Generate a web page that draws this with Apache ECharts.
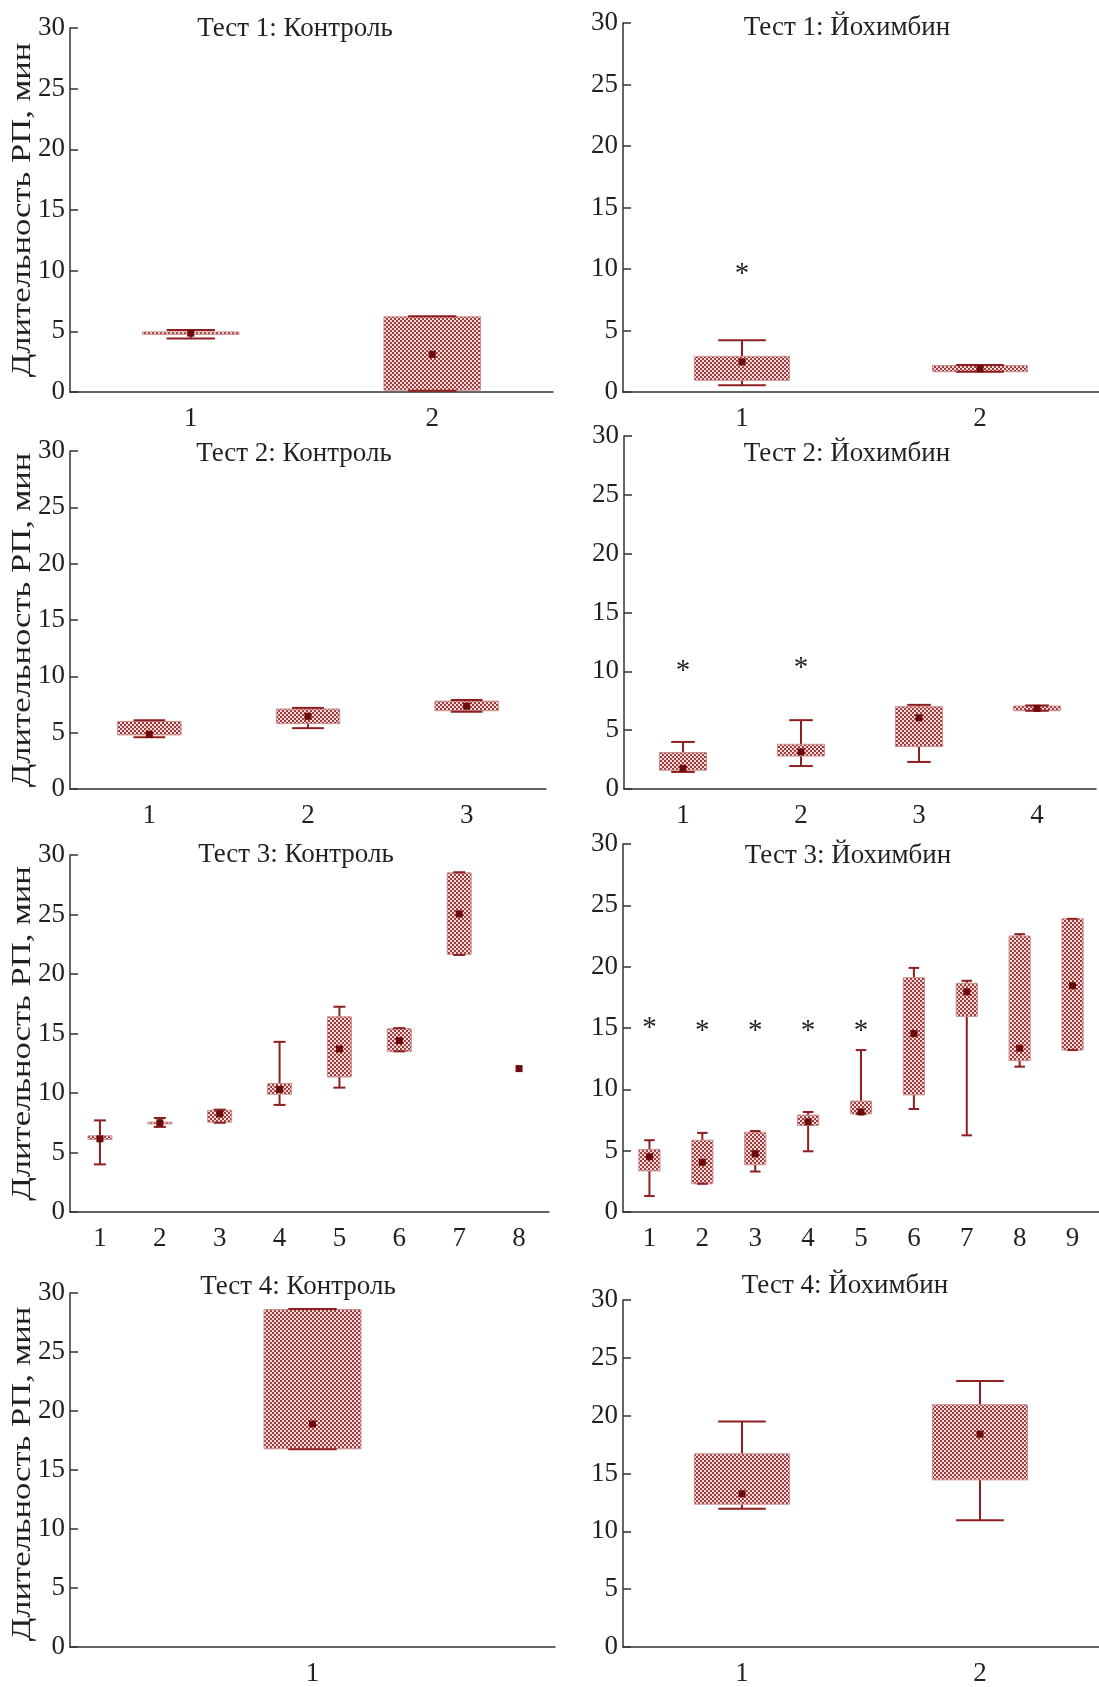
<!DOCTYPE html>
<html>
<head>
<meta charset="utf-8">
<script src="https://cdn.jsdelivr.net/npm/echarts@6/dist/echarts.min.js"></script>
<style>html,body{margin:0;padding:0;background:#fff}#c{width:1099px;height:1687px}</style>
</head>
<body>
<div id="c"></div>
<script>
// ---- data: each row = [min, q1, q3, max, mean] ----
const yTicks = [0, 5, 10, 15, 20, 25, 30];
const yName = 'Длительность РП, мин';

const t1ControlCats = ['1', '2'];
const t1Control = [[4.4, 4.75, 4.95, 5.1, 4.85], [0.1, 0.15, 6.2, 6.25, 3.1]];
const t1YohCats = ['1', '2'];
const t1Yoh = [[0.55, 0.95, 2.9, 4.2, 2.45], [1.65, 1.65, 2.15, 2.2, 1.9]];
const t1YohStars = [[0, 10.0]];

const t2ControlCats = ['1', '2', '3'];
const t2Control = [[4.6, 4.8, 6.0, 6.1, 4.85], [5.4, 5.8, 7.1, 7.2, 6.45], [6.85, 6.95, 7.8, 7.9, 7.35]];
const t2YohCats = ['1', '2', '3', '4'];
const t2Yoh = [[1.45, 1.6, 3.1, 4.0, 1.75], [1.95, 2.8, 3.8, 5.85, 3.15], [2.3, 3.6, 7.0, 7.15, 6.05], [6.65, 6.65, 7.05, 7.1, 6.85]];
const t2YohStars = [[0, 10.45], [1, 10.65]];

const t3ControlCats = ['1', '2', '3', '4', '5', '6', '7', '8'];
const t3Control = [[4.0, 6.1, 6.4, 7.7, 6.15], [7.15, 7.4, 7.55, 7.9, 7.5], [7.5, 7.55, 8.55, 8.6, 8.25],
  [9.0, 9.9, 10.8, 14.3, 10.3], [10.45, 11.35, 16.4, 17.25, 13.7], [13.5, 13.5, 15.4, 15.45, 14.4],
  [21.6, 21.65, 28.5, 28.55, 25.05], [12.05, 12.05, 12.05, 12.05, 12.05]];
const t3YohCats = ['1', '2', '3', '4', '5', '6', '7', '8', '9'];
const t3Yoh = [[1.3, 3.35, 5.1, 5.85, 4.5], [2.3, 2.3, 5.85, 6.45, 4.05], [3.3, 3.85, 6.5, 6.6, 4.75],
  [4.95, 7.05, 7.9, 8.15, 7.35], [8.0, 8.0, 9.05, 13.2, 8.15], [8.4, 9.55, 19.1, 19.9, 14.55],
  [6.25, 15.95, 18.65, 18.85, 17.95], [11.85, 12.35, 22.5, 22.65, 13.35], [13.2, 13.2, 23.9, 23.9, 18.45]];
const t3YohStars = [[0, 15.35], [1, 15.15], [2, 15.15], [3, 15.15], [4, 15.15]];

const t4ControlCats = ['1'];
const t4Control = [[16.75, 16.8, 28.6, 28.65, 18.9]];
const t4YohCats = ['1', '2'];
const t4Yoh = [[11.95, 12.35, 16.7, 19.5, 13.25], [10.95, 14.45, 20.95, 23.0, 18.4]];

const titles = ['Тест 1: Контроль', 'Тест 1: Йохимбин', 'Тест 2: Контроль', 'Тест 2: Йохимбин',
  'Тест 3: Контроль', 'Тест 3: Йохимбин', 'Тест 4: Контроль', 'Тест 4: Йохимбин'];

// ---- layout / style ----
const FONT = '"Liberation Serif", "Times New Roman", serif';
const TXT = '#231f20';
const RED = '#8e1f20';
const panels = [
  { cats: t1ControlCats, data: t1Control, stars: [], grid: [70, 28, 483, 364], title: [290, 10], ratio: 0.4, yname: true },
  { cats: t1YohCats, data: t1Yoh, stars: t1YohStars, grid: [623, 23, 477, 369], title: [842, 9], ratio: 0.4 },
  { cats: t2ControlCats, data: t2Control, stars: [], grid: [70, 451, 476, 338], title: [289, 435], ratio: 0.4, yname: true },
  { cats: t2YohCats, data: t2Yoh, stars: t2YohStars, grid: [624, 436, 472, 353], title: [842, 435], ratio: 0.4 },
  { cats: t3ControlCats, data: t3Control, stars: [], grid: [70, 855, 479, 357], title: [291, 836], ratio: 0.4, yname: true },
  { cats: t3YohCats, data: t3Yoh, stars: t3YohStars, grid: [623, 844, 481, 368], title: [843, 837], ratio: 0.4 },
  { cats: t4ControlCats, data: t4Control, stars: [], grid: [70, 1293, 485, 362], title: [293, 1268], ratio: 0.2, yname: true },
  { cats: t4YohCats, data: t4Yoh, stars: [], grid: [623, 1300, 483, 355], title: [840, 1267], ratio: 0.4 }
];

function makePattern() {
  const c = document.createElement('canvas');
  c.width = 4; c.height = 4;
  const g = c.getContext('2d');
  g.fillStyle = '#f3dcdc'; g.fillRect(0, 0, 4, 4);
  g.fillStyle = '#a23a3b'; g.fillRect(0, 0, 2, 2); g.fillRect(2, 2, 2, 2);
  return c;
}
const pattern = makePattern();

function boxRenderer(ratio) {
  return function (params, api) {
    const i = api.value(0);
    const vMin = api.value(1), q1 = api.value(2), q3 = api.value(3), vMax = api.value(4), mean = api.value(5);
    const pMin = api.coord([i, vMin]), pQ1 = api.coord([i, q1]), pQ3 = api.coord([i, q3]), pMax = api.coord([i, vMax]), pMean = api.coord([i, mean]);
    const band = api.size([1, 0])[0];
    const bw = band * ratio, cw = bw * 0.5;
    const x = pMin[0];
    const children = [];
    const ls = { stroke: RED, lineWidth: 2 };
    if (vMax > q3) children.push({ type: 'line', shape: { x1: x, y1: pMax[1], x2: x, y2: pQ3[1] }, style: ls });
    if (q1 > vMin) children.push({ type: 'line', shape: { x1: x, y1: pQ1[1], x2: x, y2: pMin[1] }, style: ls });
    if (q3 > q1) {
      children.push({ type: 'rect', shape: { x: x - bw / 2, y: pQ3[1], width: bw, height: pQ1[1] - pQ3[1] },
        style: { fill: { image: pattern, repeat: 'repeat' }, stroke: '#c98f8f', lineWidth: 1 } });
    }
    if (vMax > vMin) {
      children.push({ type: 'line', shape: { x1: x - cw / 2, y1: pMax[1], x2: x + cw / 2, y2: pMax[1] }, style: ls });
      children.push({ type: 'line', shape: { x1: x - cw / 2, y1: pMin[1], x2: x + cw / 2, y2: pMin[1] }, style: ls });
    }
    children.push({ type: 'rect', shape: { x: pMean[0] - 3.5, y: pMean[1] - 3.5, width: 7, height: 7 }, style: { fill: '#6e0c0c' } });
    return { type: 'group', children: children };
  };
}

function starRenderer(params, api) {
  const p = api.coord([api.value(0), api.value(1)]);
  return { type: 'text', x: p[0], y: p[1] + 5,
    style: { text: '*', fontSize: 29, fontFamily: FONT, fill: TXT, align: 'center', verticalAlign: 'middle' } };
}

const option = { animation: false, backgroundColor: '#fff', title: [], grid: [], xAxis: [], yAxis: [], series: [], graphic: [] };
panels.forEach((p, k) => {
  option.title.push({ text: titles[k], left: p.title[0], top: p.title[1], textAlign: 'center',
    textStyle: { fontFamily: FONT, fontSize: 27, fontWeight: 'normal', color: TXT } });
  option.grid.push({ left: p.grid[0], top: p.grid[1], width: p.grid[2], height: p.grid[3] });
  option.xAxis.push({ type: 'category', gridIndex: k, data: p.cats, boundaryGap: true,
    axisLine: { lineStyle: { color: '#333', width: 1.5 } },
    axisTick: { inside: true, length: 9, alignWithLabel: true, lineStyle: { color: '#333', width: 1.5 } },
    axisLabel: { fontFamily: FONT, fontSize: 27, color: TXT, margin: 13 }, splitLine: { show: false } });
  option.yAxis.push({ type: 'value', gridIndex: k, min: yTicks[0], max: yTicks[yTicks.length - 1], interval: yTicks[1] - yTicks[0],
    axisLine: { show: true, lineStyle: { color: '#333', width: 1.5 } },
    axisTick: { show: true, inside: true, length: 8, lineStyle: { color: '#333', width: 1.5 } },
    axisLabel: { fontFamily: FONT, fontSize: 27, color: TXT, margin: 5 }, splitLine: { show: false } });
  option.series.push({ type: 'custom', xAxisIndex: k, yAxisIndex: k, renderItem: boxRenderer(p.ratio),
    encode: { x: 0, y: [1, 2, 3, 4, 5] }, data: p.data.map((r, i) => [i].concat(r)), silent: true });
  if (p.stars.length) {
    option.series.push({ type: 'custom', xAxisIndex: k, yAxisIndex: k, renderItem: starRenderer,
      encode: { x: 0, y: 1 }, data: p.stars, silent: true });
  }
  if (p.yname) {
    option.graphic.push({ type: 'text', x: 23, y: p.grid[1] + p.grid[3] / 2, rotation: Math.PI / 2, scaleX: 1.28,
      style: { text: yName, fontFamily: FONT, fontSize: 27, fill: TXT, align: 'center', verticalAlign: 'middle' } });
  }
});

const chart = echarts.init(document.getElementById('c'), null, { renderer: 'canvas' });
chart.setOption(option);
</script>
</body>
</html>
